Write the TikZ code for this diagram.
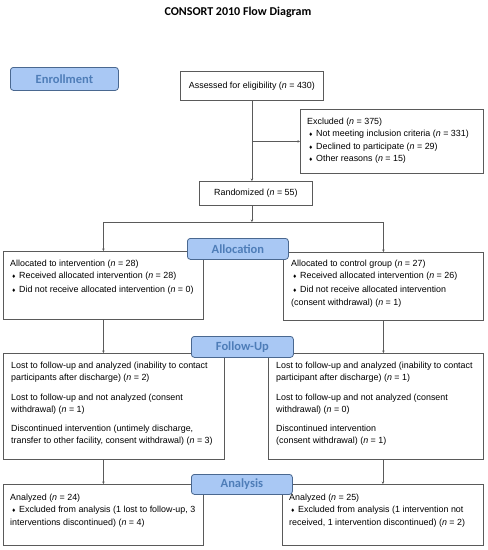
\documentclass[tikz,border=0pt]{standalone}
\usepackage{fontspec}
\setmainfont{Liberation Sans}
\newfontfamily\carl{Carlito}
\newfontfamily\symf{DejaVu Sans}
\usetikzlibrary{arrows.meta}
\definecolor{lblfill}{HTML}{A9C8F4}
\definecolor{lbldraw}{HTML}{4A6890}
\definecolor{lbltext}{HTML}{4E7DB8}
\definecolor{linec}{HTML}{5A5A5A}
\newcommand{\dm}{\hspace*{1.5pt}{\symf\fontsize{5}{5}\selectfont ♦}\hspace{3pt}}
\newcommand{\nn}{\textit{n}}
\begin{document}
\begin{tikzpicture}[x=1pt,y=-1pt,
 box/.style={draw=linec, line width=0.8pt, rectangle, inner sep=0pt, anchor=north west, font=\fontsize{8.9}{12}\selectfont},
 lbl/.style={draw=lbldraw, fill=lblfill, line width=0.8pt, rounded corners=3pt, text=lbltext, font=\carl\bfseries\fontsize{12.5}{14}\selectfont, inner sep=0pt, anchor=north west},
 conn/.style={draw=linec, line width=0.8pt},
 arr/.style={conn, -{Stealth[length=2.5pt,width=2.5pt]}},
 txt/.style={anchor=base west, inner sep=0pt, font=\fontsize{8.9}{12}\selectfont}]
\useasboundingbox (0,0) rectangle (488,550);

\node[font=\carl\bfseries\fontsize{12}{14}\selectfont] (title) at (238,12) {CONSORT 2010 Flow Diagram};

% boxes
\node[box, minimum width=143pt, minimum height=29pt] (assess) at (180,71) {Assessed for eligibility (\nn{} = 430)};
\node[box, minimum width=183pt, minimum height=64pt] (excl) at (300,109) {};
\node[box, minimum width=113pt, minimum height=24pt] (random) at (199,181) {Randomized (\nn{} = 55)};
\node[box, minimum width=200pt, minimum height=68pt] (allocL) at (3,251) {};
\node[box, minimum width=200pt, minimum height=68pt] (allocR) at (283,252) {};
\node[box, minimum width=221pt, minimum height=106pt] (fuL) at (3,353) {};
\node[box, minimum width=215pt, minimum height=106pt] (fuR) at (268,353) {};
\node[box, minimum width=200pt, minimum height=61pt] (anL) at (3,484) {};
\node[box, minimum width=201pt, minimum height=61pt] (anR) at (282,484) {};

% texts
\node[txt] (tExcl) at (307,124) {\parbox[t]{175pt}{\fontsize{8.9}{12.5}\selectfont
Excluded (\nn{} = 375)\\
\dm Not meeting inclusion criteria (\nn{} = 331)\\
\dm Declined to participate (\nn{} = 29)\\
\dm Other reasons (\nn{} = 15)}};

\node[txt] (tAllocL) at (10,266) {\parbox[t]{190pt}{
Allocated to intervention (\nn{} = 28)\\
\dm Received allocated intervention (\nn{} = 28)\\[2pt]
\dm Did not receive allocated intervention (\nn{} = 0)}};

\node[txt] (tAllocR) at (291,266) {\parbox[t]{190pt}{
Allocated to control group (\nn{} = 27)\\
\dm Received allocated intervention (\nn{} = 26)\\[2pt]
\dm Did not receive allocated intervention\\[1.5pt]
(consent withdrawal) (\nn{} = 1)}};

\node[txt] (tFuL) at (11,368) {\parbox[t]{212pt}{
Lost to follow-up and analyzed (inability to contact\\
participants after discharge) (\nn{} = 2)\\[8pt]
Lost to follow-up and not analyzed (consent\\
withdrawal) (\nn{} = 1)\\[7.5pt]
Discontinued intervention (untimely discharge,\\
transfer to other facility, consent withdrawal) (\nn{} = 3)}};

\node[txt] (tFuR) at (276,368) {\parbox[t]{206pt}{
Lost to follow-up and analyzed (inability to contact\\
participant after discharge) (\nn{} = 1)\\[8pt]
Lost to follow-up and not analyzed (consent\\
withdrawal) (\nn{} = 0)\\[7.5pt]
Discontinued intervention\\
(consent withdrawal) (\nn{} = 1)}};

\node[txt] (tAnL) at (10,500) {\parbox[t]{190pt}{
Analyzed (\nn{} = 24)\\
\dm Excluded from analysis (1 lost to follow-up, 3\\[1.5pt]
interventions discontinued) (\nn{} = 4)}};

\node[txt] (tAnR) at (289,500) {\parbox[t]{192pt}{
Analyzed (\nn{} = 25)\\
\dm Excluded from analysis (1 intervention not\\[1.5pt]
received, 1 intervention discontinued) (\nn{} = 2)}};

% connectors
\draw[arr] (assess.south) -- (assess.south |- random.north);
\draw[arr] (assess.south |- excl.west) -- (excl.west);
\coordinate (split) at (random.south |- 0,222);
\draw[arr] (assess.south |- random.south) -- (assess.south |- split);
\draw[conn] (allocL.north |- split) -- (allocR.north |- split);
\draw[arr] (allocL.north |- split) -- (allocL.north);
\draw[arr] (allocR.north |- split) -- (allocR.north);
\draw[arr] (allocL.south) -- (allocL.south |- fuL.north);
\draw[arr] (allocR.south) -- (allocR.south |- fuR.north);
\draw[arr] (anL.north |- fuL.south) -- (anL.north);
\draw[arr] (anR.north |- fuR.south) -- (anR.north);

% stage labels
\node[lbl, minimum width=108pt, minimum height=23pt] (lEnroll) at (10,67) {Enrollment};
\node[lbl, minimum width=101pt, minimum height=21pt] (lAlloc) at (187,238) {Allocation};
\node[lbl, minimum width=102pt, minimum height=21pt] (lFollow) at (191,336) {Follow-Up};
\node[lbl, minimum width=101pt, minimum height=20pt] (lAnal) at (191,474) {Analysis};
\end{tikzpicture}
\end{document}
